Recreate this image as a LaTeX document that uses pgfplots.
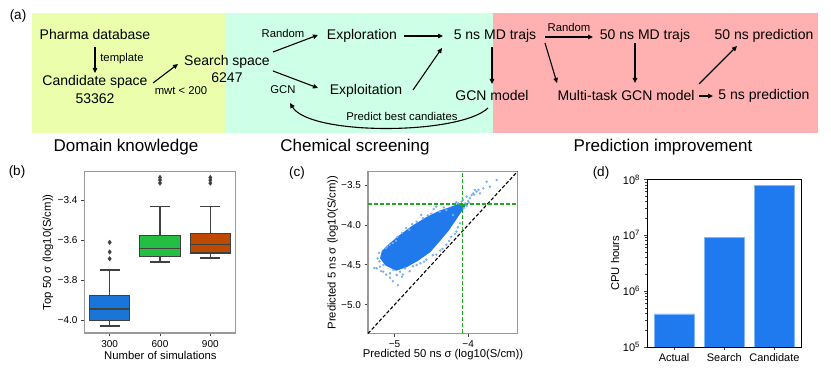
\documentclass[border=0pt]{standalone}
\usepackage{fontspec}
\setmainfont{Liberation Sans}
\usepackage{pgfplots}
\pgfplotsset{compat=1.18}
\usetikzlibrary{arrows.meta}

\definecolor{ylw}{RGB}{234,254,172}
\definecolor{mint}{RGB}{206,255,231}
\definecolor{pink}{RGB}{255,176,176}
\definecolor{bblue}{RGB}{26,117,217}
\definecolor{bgreen}{RGB}{36,190,66}
\definecolor{borange}{RGB}{190,74,0}
\definecolor{boxgray}{RGB}{64,64,64}
\definecolor{sblue}{RGB}{32,122,236}
\definecolor{lblue}{RGB}{120,172,245}
\definecolor{barblue}{RGB}{30,122,238}
\definecolor{dgreen}{RGB}{30,170,30}

\newcommand\fbig{\fontsize{14}{16}\selectfont}
\newcommand\fsml{\fontsize{11.3}{13}\selectfont}
\newcommand\fsect{\fontsize{17}{19}\selectfont}
\newcommand\fplab{\fontsize{13.5}{15}\selectfont}

\pgfplotsset{
  panel/.style={
    scale only axis, enlargelimits=false, clip=true,
    tick align=outside, tick pos=left,
    major tick length=3.5pt,
    tick style={draw=boxgray, line width=0.8pt},
    tick label style={font=\fontsize{10}{12}\selectfont},
    label style={font=\fontsize{11.3}{13}\selectfont},
    axis line style={draw=gray!80, line width=1.1pt},
  },
  bxline/.style={draw=boxgray, line width=1.2pt, mark=none},
}

\begin{document}
\begin{tikzpicture}
\path (0pt,0pt) rectangle (831pt,371pt);

% ---- (a) flow chart, drawn in image coordinates
\begin{scope}[shift={(0pt,371pt)}, x=1pt, y=-1pt,
  arr/.style={-{Triangle[length=5pt,width=4.5pt]}, line width=1.1pt}]
\fill[ylw]  (32,13) rectangle (225,133);
\fill[mint] (225,13) rectangle (493,133);
\fill[pink] (493,13) rectangle (818,133);

\node at (18,16) {\fplab (a)};

\node at (95,35)  {\fbig Pharma database};
\node at (95,82)  {\fbig Candidate space};
\node at (95,99)  {\fbig 53362};
\node at (227,62) {\fbig Search space};
\node at (227,78) {\fbig 6247};
\node at (362,36) {\fbig Exploration};
\node at (366,91) {\fbig Exploitation};
\node at (495,36) {\fbig 5 ns MD trajs};
\node at (645,36) {\fbig 50 ns MD trajs};
\node at (764,36) {\fbig 50 ns prediction};
\node at (492,96) {\fbig GCN model};
\node at (626,96) {\fbig Multi-task GCN model};
\node at (764,96) {\fbig 5 ns prediction};

\node at (122,59) {\fsml template};
\node at (181,91) {\fsml mwt < 200};
\node at (283,33) {\fsml Random};
\node at (283,90) {\fsml GCN};
\node at (569,27) {\fsml Random};
\node at (402,116) {\fsml Predict best candiates};

\node at (126,147) {\fsect Domain knowledge};
\node at (355,147) {\fsect Chemical screening};
\node at (663,147) {\fsect Prediction improvement};

\draw[arr] (95,47) -- (95,73);
\draw[arr] (153,83) -- (178,64);
\draw[arr] (273,52) -- (318,35);
\draw[arr] (273,71) -- (318,88);
\draw[arr] (404,36) -- (443,36);
\draw[arr] (413,90) -- (442,48);
\draw[arr] (545,37) -- (593,37);
\draw[arr] (492,47) -- (492,84);
\draw[arr] (545,43) -- (557,83);
\draw[arr] (635,43) -- (635,83);
\draw[arr] (699,96) -- (713,96);
\draw[arr] (699,84) -- (737,46);
\draw[arr] (488,108) .. controls (460,135) and (310,136) .. (290,103);

\node at (17,172)  {\fplab (b)};
\node at (297,173) {\fplab (c)};
\node at (601,173) {\fplab (d)};
\end{scope}

% ---- (b) box plots: whiskers, boxes, medians, outliers
\begin{axis}[panel, at={(84.5pt,38pt)}, anchor=south west,
  width=151pt, height=161.5pt,
  xmin=-0.5, xmax=2.5, ymin=-4.062, ymax=-3.257,
  unbounded coords=jump,
  xtick={0,1,2}, xticklabels={300,600,900},
  ytick={-4,-3.8,-3.6,-3.4}, yticklabels={−4.0,−3.8,−3.6,−3.4},
  xlabel={Number of simulations},
  ylabel={Top 50 σ (log10(S/cm))},
  xlabel style={at={(axis description cs:0.503,-0.142)}, anchor=center},
  ylabel style={at={(axis description cs:-0.242,0.5)}, anchor=center},
]
% 300 simulations
\addplot[bxline] coordinates {(0,-3.877) (0,-3.748) (0,nan) (-0.2,-3.748) (0.2,-3.748)
  (0,nan) (0,-3.998) (0,-4.027) (0,nan) (-0.2,-4.027) (0.2,-4.027)};
\addplot[bxline, fill=bblue] coordinates {(-0.4,-3.998) (0.4,-3.998) (0.4,-3.877) (-0.4,-3.877)} -- cycle;
\addplot[bxline] coordinates {(-0.4,-3.942) (0.4,-3.942)};
% 600 simulations
\addplot[bxline] coordinates {(1,-3.575) (1,-3.433) (1,nan) (0.8,-3.433) (1.2,-3.433)
  (1,nan) (1,-3.682) (1,-3.708) (1,nan) (0.8,-3.708) (1.2,-3.708)};
\addplot[bxline, fill=bgreen] coordinates {(0.6,-3.682) (1.4,-3.682) (1.4,-3.575) (0.6,-3.575)} -- cycle;
\addplot[bxline] coordinates {(0.6,-3.640) (1.4,-3.640)};
% 900 simulations
\addplot[bxline] coordinates {(2,-3.567) (2,-3.433) (2,nan) (1.8,-3.433) (2.2,-3.433)
  (2,nan) (2,-3.663) (2,-3.688) (2,nan) (1.8,-3.688) (2.2,-3.688)};
\addplot[bxline, fill=borange] coordinates {(1.6,-3.663) (2.4,-3.663) (2.4,-3.567) (1.6,-3.567)} -- cycle;
\addplot[bxline] coordinates {(1.6,-3.622) (2.4,-3.622)};
% outliers
\addplot[only marks, mark=diamond*, mark size=2.3pt,
  mark options={fill=boxgray, draw=boxgray, line width=0.3pt}] coordinates {
  (0,-3.610) (0,-3.658) (0,-3.692)
  (1,-3.287) (1,-3.300) (1,-3.315)
  (2,-3.287) (2,-3.300) (2,-3.315)};
\end{axis}

% ---- (c) predicted 5 ns vs 50 ns
\begin{axis}[panel, at={(368pt,37.5pt)}, anchor=south west,
  width=149.5pt, height=162pt,
  xmin=-5.36, xmax=-3.33, ymin=-5.36, ymax=-3.33,
  xtick={-5,-4}, xticklabels={−5,−4},
  ytick={-5,-4.5,-4,-3.5}, yticklabels={−5.0,−4.5,−4.0,−3.5},
  xlabel={Predicted 50 ns σ (log10(S/cm))},
  ylabel={Predicted 5 ns σ (log10(S/cm))},
  xlabel style={at={(axis description cs:0.502,-0.133)}, anchor=center},
  ylabel style={at={(axis description cs:-0.236,0.5)}, anchor=center},
]
% sparse points around the core
\addplot[only marks, color=lblue, mark=*, mark size=1pt] coordinates {
  (-3.749,-3.458) (-3.613,-3.438) (-3.704,-3.521) (-3.909,-3.562)
  (-3.931,-3.604) (-4.022,-3.645) (-3.977,-3.666) (-4.090,-3.708)
  (-4.068,-3.687) (-4.136,-3.729) (-3.886,-3.583) (-3.840,-3.604)
  (-3.954,-3.625) (-4.159,-3.716) (-3.795,-3.542) (-4.000,-3.700)
  (-4.040,-3.730) (-4.020,-3.760) (-3.990,-3.720) (-4.060,-3.790)
  (-4.432,-3.770) (-4.613,-3.916) (-4.636,-3.874) (-4.841,-4.040)
  (-5.023,-4.227) (-5.068,-4.248) (-4.295,-3.812) (-4.386,-3.833)
  (-4.204,-3.874) (-4.500,-3.860) (-4.700,-3.960) (-4.900,-4.100)
  (-5.273,-4.539) (-5.205,-4.456) (-5.182,-4.580) (-5.114,-4.622)
  (-5.023,-4.705) (-4.955,-4.755) (-4.886,-4.622) (-4.795,-4.580)
  (-4.750,-4.518) (-4.568,-4.435) (-4.432,-4.373) (-4.295,-4.248)
  (-4.159,-4.082) (-4.113,-3.978) (-5.197,-4.523) (-5.152,-4.585)
  (-5.061,-4.605) (-4.970,-4.627) (-5.242,-4.543) (-5.016,-4.564)
  (-4.925,-4.585) (-4.857,-4.543) (-4.650,-4.480) (-4.480,-4.380)
  (-4.350,-4.300) (-4.230,-4.150) (-4.140,-4.030) (-5.230,-4.420)
  (-5.210,-4.350) (-5.120,-4.290) (-4.980,-4.200) (-4.800,-4.060)
  (-4.550,-3.880) (-4.470,-3.800) (-4.330,-3.780) (-4.760,-3.990)
  (-4.960,-4.150) (-5.100,-4.270) (-4.700,-4.500) (-4.600,-4.460)
  (-4.380,-4.320) (-4.260,-4.200) (-4.180,-4.110) (-5.060,-4.660)
  (-4.900,-4.650) (-5.150,-4.500) (-3.860,-3.560) (-3.920,-3.620)
};
% dense core of the cloud
\addplot[fill=sblue, draw=sblue, line width=2pt, line join=round] coordinates {
  (-5.182,-4.414) (-5.114,-4.498) (-4.977,-4.560) (-4.841,-4.518)
  (-4.682,-4.435) (-4.523,-4.331) (-4.386,-4.186) (-4.273,-4.061)
  (-4.181,-3.936) (-4.090,-3.812) (-4.045,-3.749) (-4.113,-3.741)
  (-4.250,-3.791) (-4.386,-3.833) (-4.568,-3.916) (-4.750,-4.019)
  (-4.932,-4.144) (-5.068,-4.248) (-5.159,-4.331)
} -- cycle;
\addplot[black, line width=1.1pt, dash pattern=on 3.5pt off 2pt]
  coordinates {(-5.36,-5.36) (-3.33,-3.33)};
\addplot[dgreen, line width=1.1pt, dash pattern=on 4pt off 2pt]
  coordinates {(-4.072,-5.36) (-4.072,-3.33)};
\addplot[dgreen, line width=1.1pt, dash pattern=on 4pt off 2pt]
  coordinates {(-5.36,-3.737) (-3.33,-3.737)};
\end{axis}

% ---- (d) CPU hours
\begin{axis}[panel, at={(647pt,24pt)}, anchor=south west,
  width=154.5pt, height=167.5pt,
  ymode=log, xmin=-0.54, xmax=2.54, ymin=1e5, ymax=1e8,
  axis line style={draw=black, line width=0.8pt},
  tick label style={font=\fontsize{11}{13}\selectfont},
  xtick={0,1,2}, xticklabels={Actual,Search,Candidate},
  ytick={1e5,1e6,1e7,1e8},
  yticklabels={10\textsuperscript{5},10\textsuperscript{6},10\textsuperscript{7},10\textsuperscript{8}},
  minor tick length=2pt,
  ylabel={CPU hours},
  ylabel style={at={(axis description cs:-0.207,0.5)}, anchor=center},
]
\addplot[ybar, bar width=0.8, fill=barblue, draw=barblue!55!white, line width=0.5pt]
  coordinates {(0,3.9e5) (1,9.06e6) (2,7.87e7)};
\end{axis}
\end{tikzpicture}
\end{document}
